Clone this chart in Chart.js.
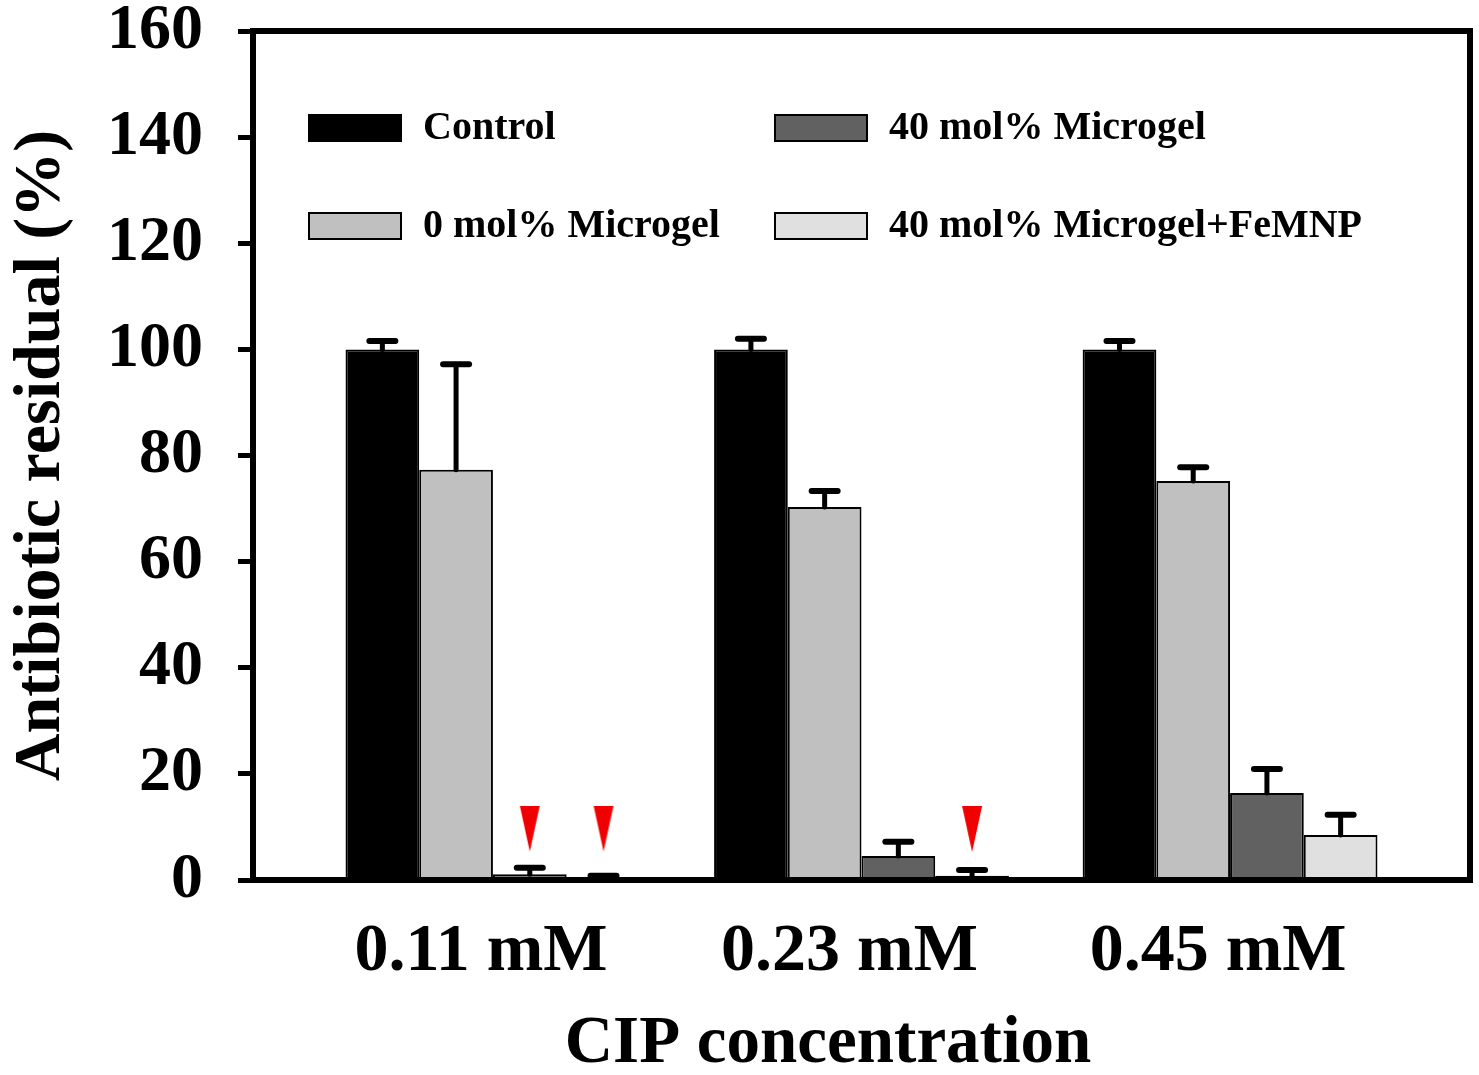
<!DOCTYPE html>
<html>
<head>
<meta charset="utf-8">
<script src="https://cdn.jsdelivr.net/npm/chart.js@4.4.1/dist/chart.umd.min.js"></script>
<style>
  body { margin: 0; background: #fff; }
  #wrap { width: 1479px; height: 1075px; position: relative; }
</style>
</head>
<body>
<div id="wrap"><canvas id="chart"></canvas></div>
<script>
// ─── DATA ─────────────────────────────────────────────
const concentrations = ['0.11 mM', '0.23 mM', '0.45 mM'];
const groupPos = [1, 2, 3];
const seriesNames = ['Control', '0 mol% Microgel', '40 mol% Microgel', '40 mol% Microgel+FeMNP'];
const controlVals = [100, 100, 100];
const mol0Vals = [77.3, 70.3, 75.2];
const mol40Vals = [1.1, 4.5, 16.4];
const femnpVals = [0.5, 0.8, 8.5];
const controlErr = [1.6, 2.0, 1.6];
const mol0Err = [19.9, 3.0, 2.6];
const mol40Err = [1.2, 2.7, 4.5];
const femnpErr = [0.3, 1.1, 3.8];
// red markers above near-zero bars
const markerX = [1.1, 1.3, 2.3];
const markerY = [9.7, 9.7, 9.6];
const yTicks = [0, 20, 40, 60, 80, 100, 120, 140, 160];

const FONT = "'Liberation Serif', 'Times New Roman', serif";
const colors = ['#000000', '#c0c0c0', '#616161', '#e0e0e0'];
const seriesVals = [controlVals, mol0Vals, mol40Vals, femnpVals];
const seriesErr = [controlErr, mol0Err, mol40Err, femnpErr];

// elongated red triangle used as point style
const tri = document.createElement('canvas');
tri.width = 22; tri.height = 46;
(function () {
  const c = tri.getContext('2d');
  c.fillStyle = '#f00000';
  c.beginPath();
  c.moveTo(1, 0); c.lineTo(21, 0); c.lineTo(11, 46); c.closePath();
  c.fill();
})();

// ─── PLUGINS ──────────────────────────────────────────
const errorBars = {
  id: 'errorBars',
  afterDatasetsDraw(chart) {
    const ctx = chart.ctx, y = chart.scales.y;
    ctx.save();
    ctx.strokeStyle = '#000';
    ctx.lineCap = 'round';
    seriesErr.forEach((errs, i) => {
      const meta = chart.getDatasetMeta(i);
      meta.data.forEach((bar, j) => {
        const top = y.getPixelForValue(seriesVals[i][j] + errs[j]);
        ctx.lineWidth = 5;
        ctx.beginPath(); ctx.moveTo(bar.x, bar.y); ctx.lineTo(bar.x, top); ctx.stroke();
        ctx.lineWidth = 6;
        ctx.beginPath(); ctx.moveTo(bar.x - 13, top); ctx.lineTo(bar.x + 13, top); ctx.stroke();
      });
    });
    ctx.restore();
  }
};

const frame = {
  id: 'frame',
  afterDraw(chart) {
    const { ctx, chartArea: a } = chart;
    ctx.save();
    ctx.strokeStyle = '#000';
    ctx.lineWidth = 6;
    ctx.strokeRect(a.left, a.top, a.right - a.left, a.bottom - a.top);
    ctx.restore();
  }
};

const boxLegend = {
  id: 'boxLegend',
  afterDraw(chart) {
    const { ctx, chartArea: a } = chart;
    const order = [0, 2, 1, 3];
    ctx.save();
    ctx.font = 'bold 40px ' + FONT;
    ctx.textBaseline = 'middle';
    order.forEach((di, k) => {
      const col = k % 2, row = Math.floor(k / 2);
      const bx = a.left + (col ? 522 : 56);
      const cy = a.top + (row ? 195 : 97);
      ctx.fillStyle = colors[di];
      ctx.fillRect(bx, cy - 13, 92, 26);
      ctx.strokeStyle = '#000';
      ctx.lineWidth = 2;
      ctx.strokeRect(bx, cy - 13, 92, 26);
      ctx.fillStyle = '#000';
      ctx.fillText(seriesNames[di], bx + 114, cy + 1);
    });
    ctx.restore();
  }
};

// ─── CHART ────────────────────────────────────────────
const barSets = seriesNames.map((name, i) => ({
  type: 'bar',
  label: name,
  data: groupPos.map((x, j) => ({ x: x, y: seriesVals[i][j] })),
  backgroundColor: colors[i],
  borderColor: '#000',
  borderWidth: 2,
  categoryPercentage: 0.8,
  barPercentage: 1.0
}));

new Chart(document.getElementById('chart'), {
  type: 'bar',
  data: {
    datasets: barSets.concat([{
      type: 'line',
      label: 'marker',
      data: markerX.map((x, i) => ({ x: x, y: markerY[i] })),
      showLine: false,
      pointStyle: tri,
      pointRadius: 12
    }])
  },
  options: {
    responsive: true,
    maintainAspectRatio: false,
    animation: false,
    layout: { autoPadding: false, padding: { top: 0, right: 9, left: 0, bottom: 0 } },
    plugins: { legend: { display: false }, tooltip: { enabled: false } },
    scales: {
      x: {
        type: 'linear',
        min: 0.349, max: 3.651,
        offset: false,
        afterBuildTicks: s => { s.ticks = groupPos.map(v => ({ value: v })); },
        afterFit: s => { s.height = 195; },
        grid: { display: false, offset: false },
        border: { display: false },
        ticks: {
          autoSkip: false, maxRotation: 0, padding: 30, color: '#000', labelOffset: -12,
          font: { family: FONT, size: 68, weight: 'bold', lineHeight: 1 },
          callback: (v, i) => concentrations[i]
        },
        title: {
          display: true, text: 'CIP concentration\u00a0\u00a0\u00a0\u00a0', color: '#000',
          font: { family: FONT, size: 67, weight: 'bold', lineHeight: 0.9 },
          padding: { top: 0, bottom: 0 }
        }
      },
      y: {
        min: 0, max: 160,
        afterBuildTicks: s => { s.ticks = yTicks.map(v => ({ value: v })); },
        afterFit: s => { s.width = 253; s.paddingTop = 31; },
        grid: { drawOnChartArea: false, tickLength: 15, tickWidth: 5, tickColor: '#000' },
        border: { display: false },
        ticks: {
          padding: 35, color: '#000',
          font: { family: FONT, size: 64, weight: 'bold', lineHeight: 0.9 }
        },
        title: {
          display: true, text: 'Antibiotic residual (%)', color: '#000',
          font: { family: FONT, size: 66, weight: 'bold', lineHeight: 1.1 },
          padding: { top: 6, bottom: 0 }
        }
      }
    }
  },
  plugins: [errorBars, frame, boxLegend]
});
</script>
</body>
</html>
